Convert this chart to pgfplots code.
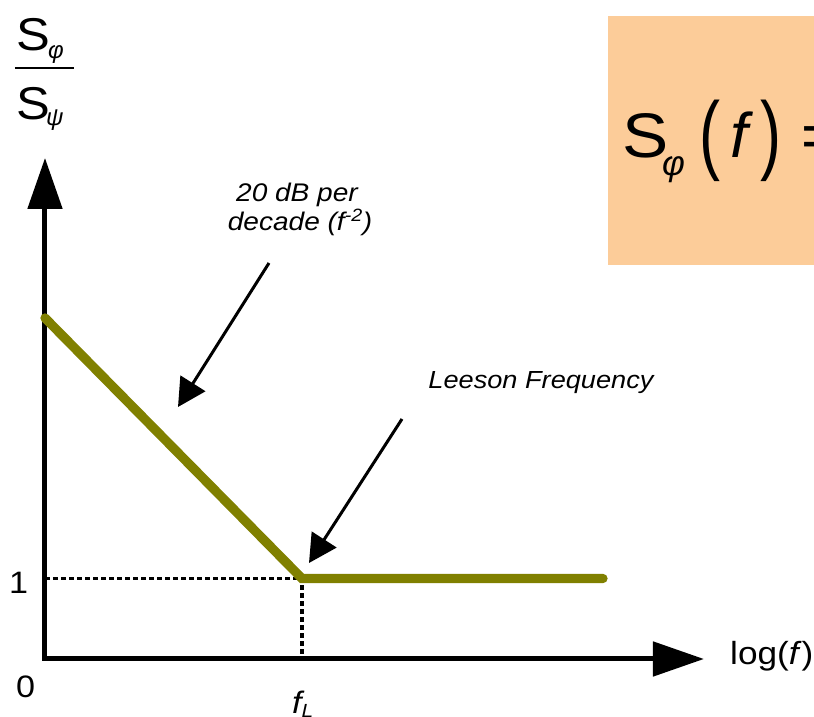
\documentclass[border=0pt]{standalone}
\usepackage{pgfplots}
\pgfplotsset{compat=1.18}
\usetikzlibrary{arrows.meta}
\usepackage{fontspec}
\setmainfont{Liberation Sans}
\definecolor{curve}{RGB}{128,128,0}
\definecolor{boxfill}{RGB}{252,204,153}
\newcommand{\wide}[1]{\scalebox{1.1}[1]{#1}}
\newcommand{\fs}[1]{\fontsize{#1}{#1}\selectfont}

\begin{document}
\begin{tikzpicture}
% frame of the figure; the formula box runs off its right edge
\useasboundingbox (-45pt,-58pt) rectangle (769pt,659pt);
\clip (-45pt,-58pt) rectangle (769pt,659pt);
% annotation layer, measured from the top-left corner of the frame
\begin{scope}[xshift=-45pt,yshift=659pt,x=1pt,y=-1pt,every node/.style={inner sep=0pt}]
  \fill[boxfill] (608,16) rectangle (840,265);
  \node[anchor=base west] at (622,158) {\fs{63}\wide{S}};
  \node[anchor=base west] at (662,175.6) {\fs{35}\itshape φ};
  \node[anchor=base west] at (699,163.6) {\fs{63}\scalebox{1}[1.39]{(}};
  \node[anchor=base west] at (730,158) {\fs{63}\itshape f};
  \node[anchor=base west] at (760,163.6) {\fs{63}\scalebox{1}[1.39]{)}};
  \node[anchor=base west] at (801,158) {\fs{63}=};
  % y label
  \node[anchor=base west] at (16,51) {\fs{46}\wide{S}};
  \node[anchor=base west] at (48,59) {\fs{24}\itshape φ};
  \draw[line width=2pt] (15,68) -- (74,68);
  \node[anchor=base west] at (16,120) {\fs{46}\wide{S}};
  \node[anchor=base west] at (46,126) {\fs{24}\itshape ψ};
  % tick texts
  \node[anchor=base] at (18.5,594) {\fs{31}\wide{1}};
  \node[anchor=base] at (25.5,698) {\fs{31}\wide{0}};
  \node[anchor=base west] at (292,714) {\fs{31}\itshape\wide{f\raisebox{-3.5pt}{\fs{19}L}}};
  \node[anchor=base west] at (730,665) {\fs{32}\wide{log(\textit{f})}};
  % callouts
  \node[anchor=base] at (297,202) {\fs{25.5}\itshape\wide{20 dB per}};
  \node[anchor=base] at (300,231) {\fs{25.5}\itshape\wide{decade (f\textsuperscript{-2})}};
  \node[anchor=base] at (541,389) {\fs{24.7}\itshape\wide{Leeson Frequency}};
  \draw[line width=3pt, -{Triangle[length=28pt,width=29pt]}] (269,263) -- (178,407);
  \draw[line width=3pt, -{Triangle[length=28pt,width=29pt]}] (402,419) -- (309,563);
\end{scope}
\begin{axis}[anchor=origin, at={(0pt,0pt)}, x=257pt, y=80.5pt,
    xmin=-0.2, xmax=2.9, ymin=-0.75, ymax=8.2, hide axis, clip=false]
  % axes with large arrow heads
  \draw[line width=5pt, line join=miter,
        {Triangle[length=51pt,width=34pt]}-{Triangle[length=51pt,width=34pt]}]
    (axis cs:0,6.224) -- (axis cs:0,0) -- (axis cs:2.564,0);
  % guides to the corner frequency
  \addplot[black, line width=3.3pt, dash pattern=on 4.7pt off 3.3pt]
    coordinates {(0,1) (1,1) (1,0)};
  % asymptotic noise ratio: f^-2 slope, then flat above f_L
  \addplot[curve, line width=9.3pt, line cap=round, line join=miter]
    coordinates {(0,4.236) (1,1) (2.171,1)};
\end{axis}
\end{tikzpicture}
\end{document}
